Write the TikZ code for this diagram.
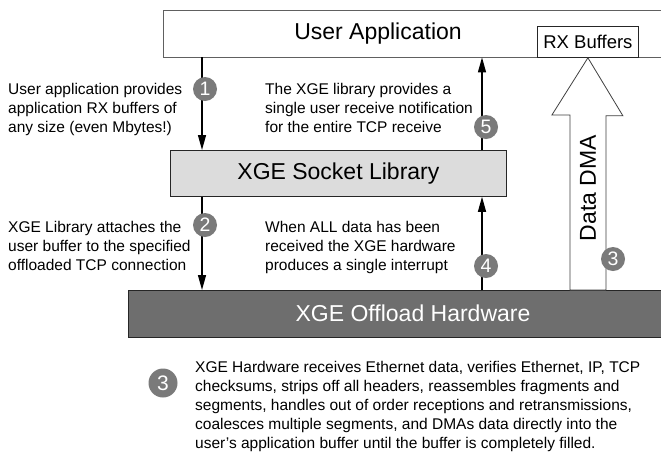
\documentclass[tikz,border=0pt]{standalone}
\usepackage{fontspec}
\setmainfont{Liberation Sans}
\usetikzlibrary{arrows.meta}
\definecolor{lightbox}{HTML}{DCDCDC}
\definecolor{darkbox}{HTML}{6E6E6E}
\definecolor{badge}{HTML}{7A7A7A}
\definecolor{edgegray}{HTML}{606060}
\begin{document}
\begin{tikzpicture}[x=1pt,y=-1pt,
  big/.style={font=\fontsize{23}{27}\selectfont},
  small/.style={font=\fontsize{15.5}{18.8}\selectfont, align=left, inner sep=0pt, anchor=north west},
  badgenode/.style={circle, fill=badge, text=white, inner sep=0pt, minimum size=24pt, font=\fontsize{19.5}{19.5}\selectfont},
  flow/.style={line width=1.3pt, -{Triangle[length=15pt,width=8pt]}},
  boxedge/.style={draw=edgegray, line width=0.9pt},
  dmaedge/.style={draw=black!75, line width=0.8pt, fill=white},
]
\useasboundingbox[fill=white] (0,0) rectangle (661,459);

% User application box (open to the right)
\node[fill=white, minimum width=498pt, minimum height=47pt, inner sep=0pt, anchor=north west] (app) at (163,10) {};
\draw[boxedge] (app.north east) -- (app.north west) -- (app.south west) -- (app.south east);
\node[big, inner sep=0pt] (apptext) at (378,34) {User Application};

% Socket library
\node[draw=black!85, line width=0.8pt, fill=lightbox, minimum width=336pt, minimum height=46pt, inner sep=0pt, anchor=north west, big] (sock) at (170,150) {XGE Socket Library};

% Offload hardware (open to the right)
\node[fill=darkbox, minimum width=533pt, minimum height=47pt, inner sep=0pt, anchor=north west] (hw) at (128,290) {};
\draw[draw=black!85, line width=0.9pt] (hw.north east) -- (hw.north west) -- (hw.south west) -- (hw.south east);
\node[big, text=white, inner sep=0pt] (hwtext) at (413,313.5) {XGE Offload Hardware};

% RX buffers
\node[draw=black!85, line width=0.8pt, fill=white, minimum width=101pt, minimum height=31pt, inner sep=0pt, anchor=north west, font=\fontsize{18.5}{20}\selectfont] (rx) at (537,26) {RX Buffers};

% vertical flows
\coordinate (xl) at (202,0);
\coordinate (xr) at (482,0);
\draw[flow] (app.south -| xl) -- (sock.north -| xl);
\draw[flow] (sock.south -| xl) -- (hw.north -| xl);
\draw[flow] (hw.north -| xr) -- (sock.south -| xr);
\draw[flow] (sock.north -| xr) -- (app.south -| xr);

% Data DMA block arrow
\draw[dmaedge] (rx.south) -- ++(35,58) -- ++(-17,0) coordinate (sr) -- (sr |- hw.north) -- ++(-36,0) -- ++(0,-175) -- ++(-18,0) -- cycle;
\node[big, rotate=90, inner sep=0pt] (dma) at (588,188) {Data DMA};

% badges
\node[badgenode] (b1) at (205,89) {1};
\node[badgenode] (b2) at (205,225) {2};
\node[badgenode] (b5) at (486,127) {5};
\node[badgenode] (b4) at (486,266) {4};
\node[badgenode] (b3) at (613,259) {3};
\node[badgenode, minimum size=29pt, font=\fontsize{21}{21}\selectfont] (b3n) at (163,383) {3};

% texts
\node[small] (t1) at (8,83) {User application provides\\application RX buffers of\\any size (even Mbytes!)};
\node[small] (t2) at (8,221.5) {XGE Library attaches the\\user buffer to the specified\\offloaded TCP connection};
\node[small] (t3) at (265,83) {The XGE library provides a\\single user receive notification\\for the entire TCP receive};
\node[small] (t4) at (265,221.5) {When ALL data has been\\received the XGE hardware\\produces a single interrupt};
\node[small] (t5) at (195,361.5) {XGE Hardware receives Ethernet data, verifies Ethernet, IP, TCP\\checksums, strips off all headers, reassembles fragments and\\segments, handles out of order receptions and retransmissions,\\coalesces multiple segments, and DMAs data directly into the\\user's application buffer until the buffer is completely filled.};
\end{tikzpicture}
\end{document}
